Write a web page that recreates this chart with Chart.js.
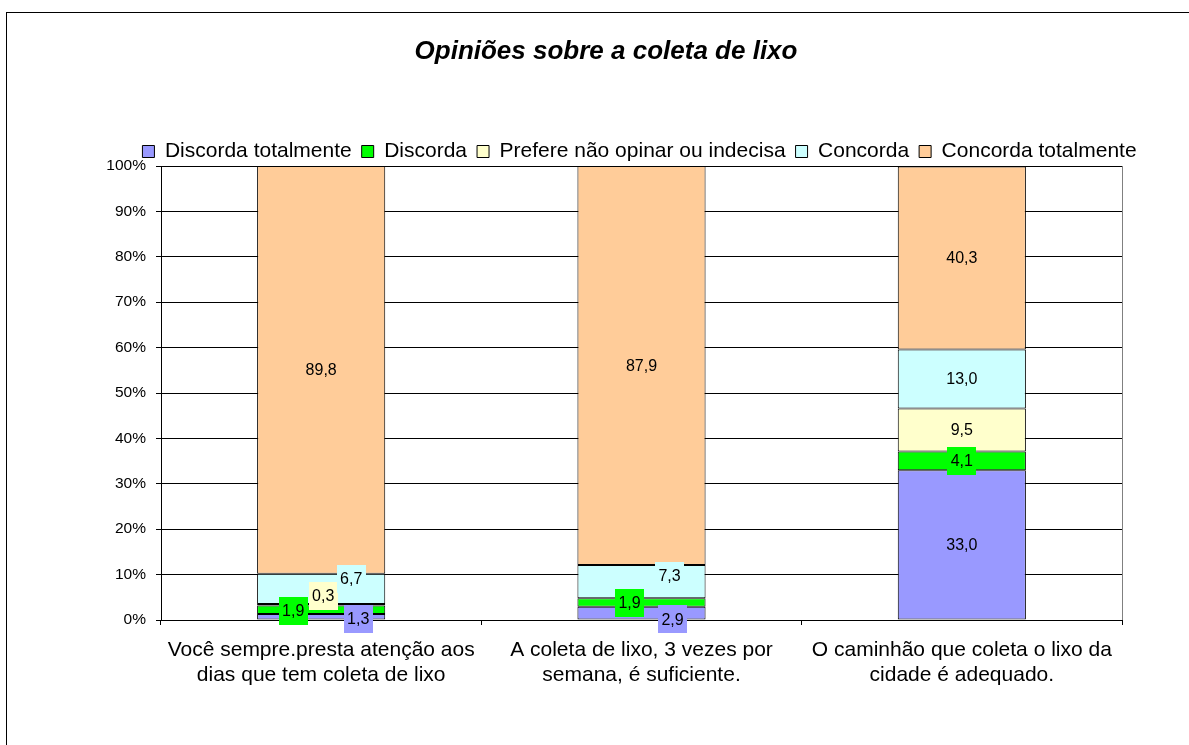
<!DOCTYPE html>
<html><head><meta charset="utf-8">
<script src="https://cdn.jsdelivr.net/npm/chart.js@4/dist/chart.umd.min.js"></script>
<style>html,body{margin:0;padding:0;background:#fff;}canvas{display:block;}</style>
</head><body>
<canvas id="c" width="1189" height="745"></canvas>
<script>
const chartTitle = 'Opiniões sobre a coleta de lixo';
const categories = [
  ['Você sempre.presta atenção aos', 'dias que tem coleta de lixo'],
  ['A coleta de lixo, 3 vezes por', 'semana, é suficiente.'],
  ['O caminhão que coleta o lixo da', 'cidade é adequado.']
];
const seriesNames = ['Discorda totalmente', 'Discorda', 'Prefere não opinar ou indecisa', 'Concorda', 'Concorda totalmente'];
const discordaTotalmente = [1.3, 2.9, 33.0];
const discorda = [1.9, 1.9, 4.1];
const prefereNaoOpinar = [0.3, 0, 9.5];
const concorda = [6.7, 7.3, 13.0];
const concordaTotalmente = [89.8, 87.9, 40.3];
const yTickLabels = ['0%', '10%', '20%', '30%', '40%', '50%', '60%', '70%', '80%', '90%', '100%'];

const seriesValues = [discordaTotalmente, discorda, prefereNaoOpinar, concorda, concordaTotalmente];
const seriesColors = ['#9999FF', '#00FF00', '#FFFFCC', '#CCFFFF', '#FFCC99'];
// manual label displacement (px) per series, per category, as in the original
const labelShifts = [
  [[37, 2], [31, 6], [0, 0]],
  [[-28, 1], [-12, 0], [0, 0]],
  [[2, -9], [0, 0], [0, 0]],
  [[30, -10], [28, -6], [0, 0]],
  [[0, 0], [0, 0], [0, 0]]
];
const FONT = '"Liberation Sans", Arial, sans-serif';
Chart.defaults.font.family = FONT;
Chart.defaults.color = '#000';

const decor = {
  id: 'decor',
  beforeDraw(chart) {
    const ctx = chart.ctx;
    ctx.save();
    ctx.fillStyle = '#fff';
    ctx.fillRect(0, 0, chart.width, chart.height);
    ctx.strokeStyle = '#000';
    ctx.lineWidth = 1;
    ctx.strokeRect(6.5, 12.5, chart.width + 20, chart.height + 20);
    ctx.font = 'italic bold 26px ' + FONT;
    ctx.fillStyle = '#000';
    ctx.textAlign = 'center';
    ctx.textBaseline = 'alphabetic';
    ctx.fillText(chartTitle, 606, 59);
    ctx.restore();
  },
  afterDraw(chart) {
    const ctx = chart.ctx;
    const a = chart.chartArea;
    ctx.save();
    ctx.strokeStyle = '#808080';
    ctx.lineWidth = 1;
    ctx.beginPath();
    ctx.moveTo(Math.round(a.right) + 0.5, a.top);
    ctx.lineTo(Math.round(a.right) + 0.5, a.bottom);
    ctx.stroke();
    ctx.font = '16px ' + FONT;
    ctx.textAlign = 'center';
    ctx.textBaseline = 'middle';
    chart.data.datasets.forEach((ds, di) => {
      const meta = chart.getDatasetMeta(di);
      meta.data.forEach((bar, i) => {
        const v = ds.data[i];
        if (!v) return;
        const p = bar.getProps(['x', 'y', 'base'], true);
        const cx = p.x + labelShifts[di][i][0];
        const cy = (p.y + p.base) / 2 + labelShifts[di][i][1];
        const txt = v.toFixed(1).replace('.', ',');
        const w = ctx.measureText(txt).width + 7, h = 28;
        ctx.fillStyle = ds.backgroundColor;
        ctx.fillRect(Math.round(cx - w / 2), Math.round(cy - h / 2), Math.round(w), h);
        ctx.fillStyle = '#000';
        ctx.fillText(txt, cx, cy + 1);
      });
    });
    ctx.restore();
  }
};

new Chart(document.getElementById('c'), {
  type: 'bar',
  data: {
    labels: categories,
    datasets: seriesNames.map((name, i) => ({
      label: name,
      data: seriesValues[i],
      backgroundColor: seriesColors[i],
      borderColor: '#000',
      borderWidth: 1,
      borderSkipped: false,
      categoryPercentage: 1,
      barPercentage: 0.4
    }))
  },
  options: {
    responsive: false,
    animation: false,
    layout: { padding: { top: 131, left: 90, right: 0, bottom: 45 } },
    plugins: {
      title: { display: false },
      tooltip: { enabled: false },
      legend: {
        position: 'top',
        align: 'center',
        maxHeight: 35,
        labels: { boxWidth: 12, boxHeight: 12, padding: 10, color: '#000', font: { size: 21 } }
      }
    },
    scales: {
      x: {
        stacked: true,
        grid: { display: true, offset: true, drawOnChartArea: false, tickLength: 5, color: '#000' },
        border: { color: '#000' },
        ticks: { color: '#000', font: { size: 21, lineHeight: 1.19 }, padding: 13, maxRotation: 0, autoSkip: false },
        afterFit(s) { s.height = 80; }
      },
      y: {
        stacked: true,
        min: 0,
        max: 100,
        ticks: { stepSize: 10, callback: (v, i) => yTickLabels[i], color: '#000', font: { size: 15.5 }, padding: 10 },
        grid: { color: '#000', tickLength: 5 },
        border: { color: '#000' },
        afterFit(s) { s.width = 71; }
      },
      yRight: {
        position: 'right',
        display: true,
        grid: { display: false },
        ticks: { display: false },
        border: { display: false },
        afterFit(s) { s.width = 67; }
      }
    }
  },
  plugins: [decor]
});
</script>
</body></html>
